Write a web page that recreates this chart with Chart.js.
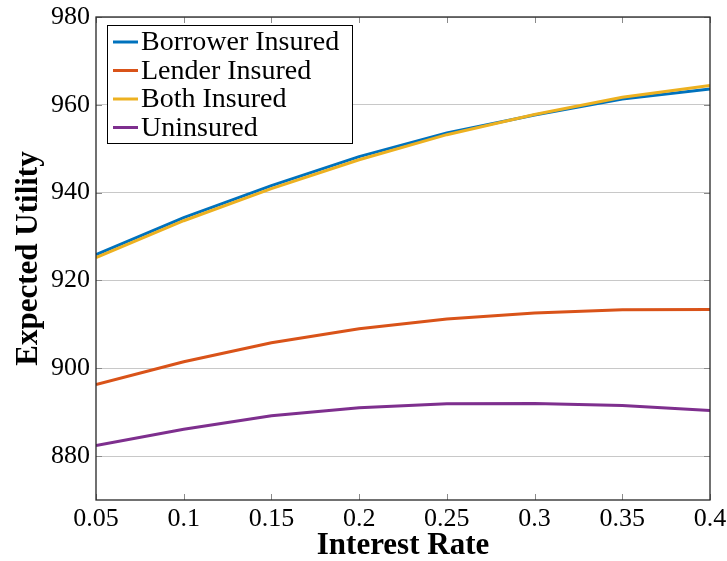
<!DOCTYPE html>
<html>
<head>
<meta charset="utf-8">
<script src="https://cdn.jsdelivr.net/npm/chart.js@4/dist/chart.umd.min.js"></script>
<style>
  html, body { margin: 0; padding: 0; background: #fff; }
  #wrap { width: 727px; height: 561px; }
</style>
</head>
<body>
<div id="wrap"><canvas id="myChart"></canvas></div>
<script>
// interest rates on the x axis
const rates = [0.05, 0.1, 0.15, 0.2, 0.25, 0.3, 0.35, 0.4];
const xTicks = [0.05, 0.1, 0.15, 0.2, 0.25, 0.3, 0.35, 0.4];
const yTicks = [880, 900, 920, 940, 960, 980];

// expected utility per scenario
const borrowerInsured = [925.9, 934.3, 941.6, 948.2, 953.6, 957.7, 961.3, 963.6];
const lenderInsured   = [896.3, 901.5, 905.8, 909.0, 911.2, 912.6, 913.3, 913.4];
const bothInsured     = [925.2, 933.6, 940.9, 947.5, 953.2, 957.8, 961.7, 964.4];
const uninsured       = [882.4, 886.1, 889.2, 891.0, 891.9, 892.0, 891.5, 890.4];

const serif = "'Liberation Serif', 'DejaVu Serif', serif";

function pts(arr){
  return rates.map((r, i) => ({x: r, y: arr[i]}));
}

// frame, inward tick marks and the boxed legend
const framePlugin = {
  id: 'frame',
  afterDraw(chart){
    const c = chart.ctx, a = chart.chartArea;
    const xs = chart.scales.x, ys = chart.scales.y;
    c.save();
    c.strokeStyle = '#8a8a8a';
    c.lineWidth = 1;
    c.beginPath();
    xTicks.forEach(v => {
      const px = Math.round(xs.getPixelForValue(v)) + 0.5;
      c.moveTo(px, a.bottom); c.lineTo(px, a.bottom - 6);
      c.moveTo(px, a.top); c.lineTo(px, a.top + 6);
    });
    yTicks.forEach(v => {
      const py = Math.round(ys.getPixelForValue(v)) + 0.5;
      c.moveTo(a.left, py); c.lineTo(a.left + 6, py);
      c.moveTo(a.right, py); c.lineTo(a.right - 6, py);
    });
    c.stroke();
    c.strokeStyle = '#262626';
    c.lineWidth = 1.3;
    c.strokeRect(a.left, a.top, a.right - a.left, a.bottom - a.top);

    // legend
    const lx = a.left + 11, ly = a.top + 8, lw = 245, lh = 118, row = 28.5;
    c.fillStyle = '#fff';
    c.fillRect(lx, ly, lw, lh);
    c.strokeStyle = '#000';
    c.lineWidth = 1;
    c.strokeRect(lx + 0.5, ly + 0.5, lw, lh);
    c.font = '28px ' + serif;
    c.textBaseline = 'middle';
    c.textAlign = 'left';
    chart.data.datasets.forEach((ds, i) => {
      const cy = ly + 17 + i * row;
      c.strokeStyle = ds.borderColor;
      c.lineWidth = 3;
      c.beginPath();
      c.moveTo(lx + 6, cy); c.lineTo(lx + 31, cy);
      c.stroke();
      c.fillStyle = '#000';
      c.fillText(ds.label, lx + 34, cy + 1);
    });
    c.restore();
  }
};

const ctx = document.getElementById('myChart');
new Chart(ctx, {
  type: 'line',
  data: {
    datasets: [
      { label: 'Borrower Insured', data: pts(borrowerInsured), borderColor: '#0072BD', order: 1 },
      { label: 'Lender Insured', data: pts(lenderInsured), borderColor: '#D95319', order: 2 },
      { label: 'Both Insured', data: pts(bothInsured), borderColor: '#EDB120', order: 0 },
      { label: 'Uninsured', data: pts(uninsured), borderColor: '#7E2F8E', order: 3 }
    ]
  },
  options: {
    responsive: true,
    maintainAspectRatio: false,
    animation: false,
    layout: { padding: { top: 17, right: 17, left: 0, bottom: 0 } },
    elements: {
      line: { borderWidth: 3, tension: 0 },
      point: { radius: 0 }
    },
    plugins: {
      legend: { display: false },
      tooltip: { enabled: false }
    },
    scales: {
      x: {
        type: 'linear',
        min: 0.05,
        max: 0.4,
        afterBuildTicks: s => { s.ticks = xTicks.map(v => ({value: v})); },
        afterFit: s => { s.height = 61; s.paddingLeft = 0; s.paddingRight = 0; },
        grid: { display: false, drawTicks: false },
        border: { display: false },
        ticks: {
          color: '#000',
          padding: 4,
          maxRotation: 0,
          font: { family: serif, size: 26 },
          callback: v => String(Number(v.toFixed(2)))
        },
        title: {
          display: true,
          text: 'Interest Rate',
          color: '#000',
          padding: { top: 0, bottom: 0 },
          font: { family: serif, size: 31, weight: 'bold', lineHeight: 1 }
        }
      },
      y: {
        min: 870,
        max: 980,
        afterBuildTicks: s => { s.ticks = yTicks.map(v => ({value: v})); },
        afterFit: s => { s.width = 96; s.paddingTop = 0; s.paddingBottom = 0; },
        grid: { color: '#c8c8c8', lineWidth: 1, drawTicks: false },
        border: { display: false },
        ticks: {
          color: '#000',
          padding: 6,
          font: { family: serif, size: 26 }
        },
        title: {
          display: true,
          text: 'Expected Utility',
          color: '#000',
          padding: { top: 10, bottom: 4 },
          font: { family: serif, size: 31, weight: 'bold' }
        }
      }
    }
  },
  plugins: [framePlugin]
});
</script>
</body>
</html>
